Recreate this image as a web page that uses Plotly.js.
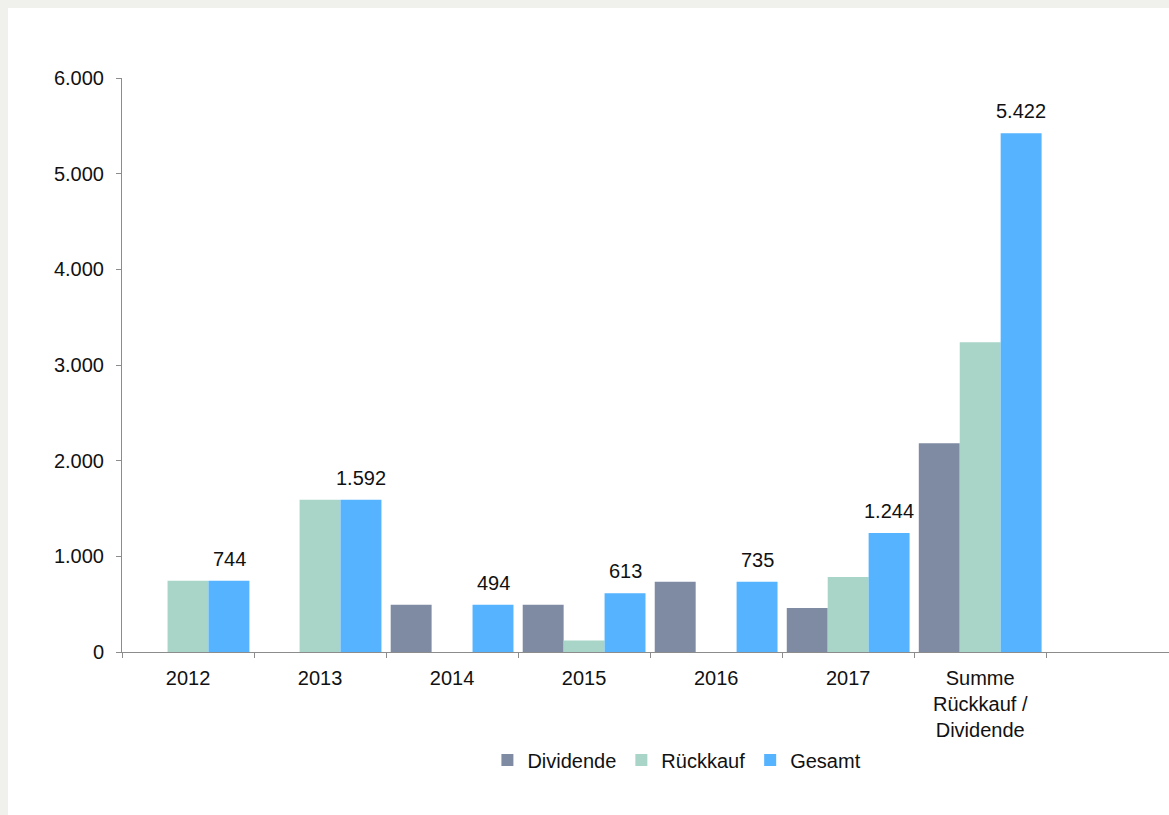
<!DOCTYPE html>
<html>
<head>
<meta charset="utf-8">
<script src="https://cdn.plot.ly/plotly-3.0.1.min.js"></script>
<style>
  html, body { margin: 0; padding: 0; background: #f0f0ec; width: 1169px; height: 815px; overflow: hidden; }
  #chart { position: absolute; left: 8px; top: 8px; width: 1161px; height: 807px; background: #ffffff; }
</style>
</head>
<body>
<div id="chart"></div>
<script>
const categories = ["2012", "2013", "2014", "2015", "2016", "2017", "Summe<br>Rückkauf /<br>Dividende", " "];
const dividende = [0, 0, 494, 494, 735, 460, 2183, null];
const rueckkauf = [744, 1592, 0, 119, 0, 784, 3239, null];
const gesamt = [744, 1592, 494, 613, 735, 1244, 5422, null];
const seriesNames = ["Dividende", "Rückkauf", "Gesamt"];
const yTicks = [0, 1000, 2000, 3000, 4000, 5000, 6000];

const fontFam = "Liberation Sans, Arial, sans-serif";
const colors = ["#7f8ba2", "#a8d5c8", "#55b3ff"];

const traces = [
  { type: "bar", name: seriesNames[0], x: categories, y: dividende, marker: { color: colors[0] }, hoverinfo: "skip" },
  { type: "bar", name: seriesNames[1], x: categories, y: rueckkauf, marker: { color: colors[1] }, hoverinfo: "skip" },
  { type: "bar", name: seriesNames[2], x: categories, y: gesamt, marker: { color: colors[2] }, hoverinfo: "skip" }
];

// value labels above the "Gesamt" bars (third bar of each group)
const fmt = v => String(v).replace(/\B(?=(\d{3})+(?!\d))/g, ".");
const annotations = gesamt
  .map((v, i) => ({ i, v }))
  .filter(d => d.v !== null)
  .map(d => ({
    x: d.i, y: d.v, xref: "x", yref: "y",
    text: fmt(d.v), showarrow: false,
    xanchor: "center", yanchor: "bottom",
    xshift: 41, yshift: 9,
    font: { family: fontFam, size: 20, color: "#111111" }
  }));

const layout = {
  width: 1161, height: 807,
  margin: { l: 114, r: 0, t: 70, b: 163 },
  paper_bgcolor: "#ffffff", plot_bgcolor: "#ffffff",
  separators: ",.",
  font: { family: fontFam, size: 20, color: "#111111" },
  barmode: "group", bargap: 0.07, bargroupgap: 0,
  showlegend: true,
  legend: { orientation: "h", x: 0.53, xanchor: "center", y: -0.188, yanchor: "middle",
            font: { family: fontFam, size: 20, color: "#111111" }, itemwidth: 30, traceorder: "normal" },
  annotations: annotations,
  xaxis: {
    type: "category", range: [-0.5, 7.43], tickson: "boundaries",
    ticks: "outside", ticklen: 5, tickcolor: "#8c8c8c", tickwidth: 1,
    showline: true, linecolor: "#8c8c8c", linewidth: 1,
    showgrid: false, zeroline: false, ticklabelstandoff: 8,
    tickfont: { family: fontFam, size: 20, color: "#111111" }
  },
  yaxis: {
    range: [0, 6000], tickvals: yTicks, tickformat: ",d",
    ticks: "outside", ticklen: 5, tickcolor: "#8c8c8c", tickwidth: 1,
    showline: true, linecolor: "#8c8c8c", linewidth: 1,
    showgrid: false, zeroline: false, ticklabelstandoff: 8,
    tickfont: { family: fontFam, size: 20, color: "#111111" }
  }
};

Plotly.newPlot("chart", traces, layout, { staticPlot: true, displayModeBar: false });
</script>
</body>
</html>
